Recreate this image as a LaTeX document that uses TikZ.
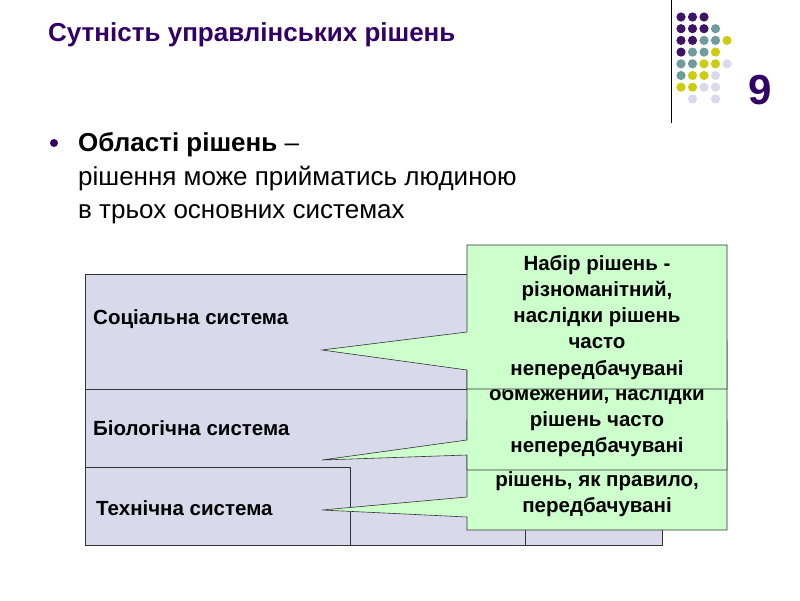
\documentclass[tikz,border=0pt]{standalone}
\usepackage{fontspec}
\setmainfont{Liberation Sans}
\definecolor{ttl}{HTML}{330066}
\definecolor{lav}{HTML}{D9D9EC}
\definecolor{grn}{HTML}{CCFFCC}
\definecolor{dP}{HTML}{3D1466}
\definecolor{dT}{HTML}{6E9C9C}
\definecolor{dY}{HTML}{CCCC11}
\definecolor{dL}{HTML}{DADAEE}
\definecolor{dN}{HTML}{FFFFFF}
\begin{document}
\begin{tikzpicture}[x=1pt,y=-1pt,
  sys/.style={draw=black!80,fill=lav,line width=0.6pt},
  call/.style={draw=black!80,fill=grn,line width=0.6pt},
  ct/.style={font=\bfseries\fontsize{20.5}{24}\selectfont,anchor=base},
  lt/.style={font=\bfseries\fontsize{20.5}{24}\selectfont,anchor=base west}]
\useasboundingbox (0,0) rectangle (800,600);
\node[anchor=base west,inner sep=0,text=ttl,font=\bfseries\fontsize{26}{30}\selectfont] (title) at (48,41) {Сутність управлінських рішень};
\draw (671,0) -- (671,123);
\node[text=ttl,font=\bfseries\fontsize{42}{46}\selectfont] (num) at (760,90) {9};
\foreach \r/\row in {0/{P,P,P},1/{P,P,P,T},2/{P,P,T,T,Y},3/{P,T,T,Y},4/{T,T,Y,Y,L},5/{T,Y,Y,L},6/{Y,Y,L,L},7/{N,L,N,L}}{
  \foreach \c [count=\i from 0] in \row {
    \fill[d\c] (681+11.5*\i,17+11.7*\r) circle (4.6);
  }}
\fill[ttl] (54,143) circle (4);
\node[anchor=base west,inner sep=0,font=\fontsize{26}{30}\selectfont] (b1) at (78,151) {\textbf{Області рішень} –};
\node[anchor=base west,inner sep=0,font=\fontsize{26}{30}\selectfont] (b2) at (78,185) {рішення може прийматись людиною};
\node[anchor=base west,inner sep=0,font=\fontsize{26}{30}\selectfont] (b3) at (78,218) {в трьох основних системах};
% systems
\draw[sys] (85,274) rectangle (662,545);
\draw[sys] (85,389) rectangle (525,545);
\draw[sys] (85,467) rectangle (350,545);
\node[lt,inner sep=0] (s1) at (93,324) {Соціальна система};
\node[lt,inner sep=0] (s2) at (93,435) {Біологічна система};
\node[lt,inner sep=0] (s3) at (96,515) {Технічна система};
% tech callout
\draw[call] (467,420) -- (727,420) -- (727,530) -- (467,530) -- (467,517) -- (322,510) -- (467,497) -- cycle;
\node[ct] (t1) at (597,486) {рішень, як правило,};
\node[ct] (t2) at (597,512) {передбачувані};
% bio callout
\draw[call] (467,340) -- (727,340) -- (727,470) -- (467,470) -- (467,455) -- (322,460) -- (467,440) -- cycle;
\node[ct] (q1) at (597,400) {обмежений, наслідки};
\node[ct] (q2) at (597,426) {рішень часто};
\node[ct] (q3) at (597,452) {непередбачувані};
% social callout
\draw[call] (467,245) -- (727,245) -- (727,389) -- (467,389) -- (467,370) -- (322,350) -- (467,332) -- cycle;
\foreach \t [count=\k from 0] in {Набір рішень -,{різноманітний,},наслідки рішень,часто,непередбачувані}
  \node[ct] at (597,270+26.3*\k) {\t};
\end{tikzpicture}
\end{document}
